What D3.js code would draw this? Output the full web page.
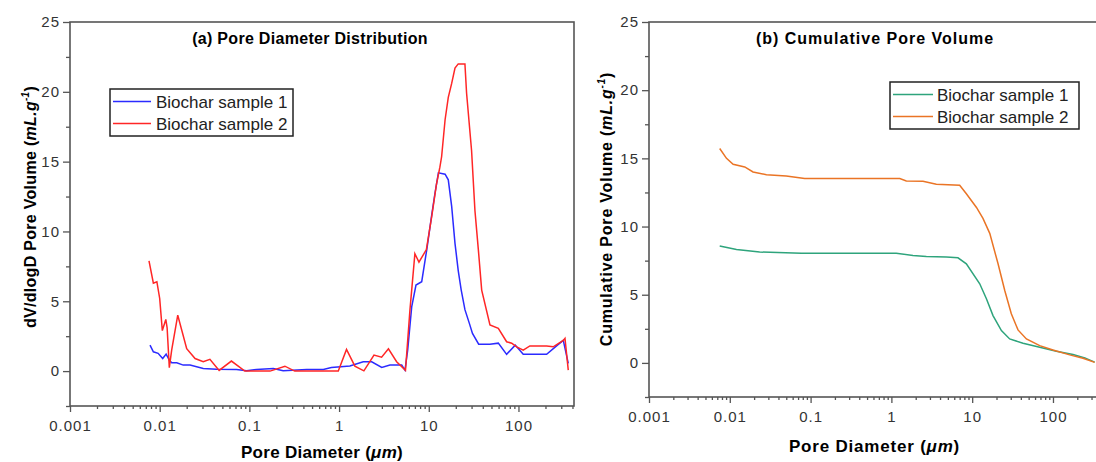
<!DOCTYPE html>
<html>
<head>
<meta charset="utf-8">
<script src="https://cdn.jsdelivr.net/npm/d3@7"></script>
<style>
  body { margin: 0; background: #fff; }
  svg { display: block; font-family: "Liberation Sans", Arial, sans-serif; }
</style>
</head>
<body>
<svg id="chart" width="1096" height="462"></svg>
<script>
// pore diameter (um) and dV/dlogD (mL/g) - panel (a)
const diam1 = [0.0078, 0.0085, 0.0096, 0.0108, 0.0118, 0.0128, 0.0136, 0.0155, 0.0183, 0.0218, 0.0306, 0.0431, 0.0719, 0.093, 0.12, 0.185, 0.238, 0.435, 0.667, 0.82, 1.32, 1.86, 2.31, 2.99, 3.69, 4.99, 5.43, 5.82, 6.45, 7.2, 8.34, 9.48, 10.8, 11.7, 12.8, 15.2, 16.5, 18.0, 19.6, 21.3, 23.0, 25.3, 28.4, 30.7, 36.0, 48, 59.6, 73.8, 92, 113, 160, 206, 272, 316, 359];
const dv1 = [1.86, 1.38, 1.27, 0.9, 1.22, 0.79, 0.6, 0.6, 0.43, 0.43, 0.19, 0.14, 0.12, 0.02, 0.12, 0.19, 0.02, 0.12, 0.12, 0.26, 0.36, 0.67, 0.67, 0.26, 0.43, 0.43, 0.07, 1.5, 4.6, 6.16, 6.4, 8.67, 11.2, 12.7, 14.2, 14.1, 13.7, 11.8, 9.15, 7.2, 5.8, 4.4, 3.4, 2.7, 1.93, 1.93, 2.0, 1.2, 1.86, 1.2, 1.2, 1.2, 1.86, 2.2, 0.55];

const diam2 = [0.0076, 0.0085, 0.0093, 0.0100, 0.0107, 0.0117, 0.0121, 0.0128, 0.0136, 0.0159, 0.0200, 0.0248, 0.0306, 0.0363, 0.046, 0.063, 0.089, 0.17, 0.249, 0.32, 0.98, 1.21, 1.50, 1.89, 2.45, 2.98, 3.55, 4.38, 5.50, 6.17, 7.0, 7.77, 9.4, 10.8, 12.2, 13.3, 13.9, 15.2, 16.5, 18.0, 19.6, 21.3, 25.3, 26.4, 30.0, 32.7, 35.7, 38.9, 48.1, 59.6, 73.8, 84.0, 95.5, 113, 134, 206, 244, 316, 330, 359];
const dv2 = [7.9, 6.3, 6.4, 5.2, 2.9, 3.7, 3.1, 0.25, 1.5, 4.0, 1.6, 0.9, 0.67, 0.84, 0.05, 0.72, 0.0, 0.0, 0.35, 0.0, 0.0, 1.55, 0.35, 0.02, 1.15, 1.0, 1.6, 0.67, 0.05, 4.4, 8.4, 7.8, 8.7, 11.1, 13.4, 14.6, 15.35, 18.0, 19.6, 20.6, 21.7, 22.0, 22.0, 19.9, 15.8, 11.5, 8.7, 5.8, 3.3, 3.06, 2.1, 2.0, 1.74, 1.5, 1.8, 1.8, 1.74, 2.2, 2.35, 0.07];

// cumulative pore volume (mL/g) - panel (b)
const cumDiam1 = [0.0075, 0.0121, 0.0234, 0.0769, 1.15, 1.85, 2.71, 4.79, 6.67, 8.47, 12.4, 15.0, 18.1, 23.0, 29.1, 42.6, 68.5, 110, 177, 248, 328];
const cum1 = [8.57, 8.32, 8.13, 8.05, 8.05, 7.88, 7.81, 7.76, 7.71, 7.27, 5.8, 4.7, 3.47, 2.37, 1.76, 1.44, 1.15, 0.85, 0.61, 0.37, 0.06];

const cumDiam2 = [0.0075, 0.0091, 0.011, 0.0153, 0.0194, 0.0284, 0.050, 0.0845, 1.27, 1.53, 2.46, 3.6, 7.0, 8.47, 11.3, 13.6, 16.5, 20.9, 25.3, 30.5, 36.9, 46.9, 68.5, 100, 161, 235, 328];
const cum2 = [15.72, 15.0, 14.57, 14.37, 14.0, 13.8, 13.7, 13.52, 13.52, 13.34, 13.32, 13.1, 13.03, 12.4, 11.4, 10.6, 9.5, 7.27, 5.31, 3.6, 2.42, 1.76, 1.27, 0.95, 0.59, 0.34, 0.04];

const xTicks = [0.001, 0.01, 0.1, 1, 10, 100];
const yTicks = [0, 5, 10, 15, 20, 25];
const seriesNames = ["Biochar sample 1", "Biochar sample 2"];

const svg = d3.select("#chart");

// minor ticks 2..9 per decade, plus the half-steps on y
const minorX = [];
for (let e = -3; e <= 2; e++) for (let k = 2; k <= 9; k++) minorX.push(k * Math.pow(10, e));
const minorY = [-2.5, 2.5, 7.5, 12.5, 17.5, 22.5];

function panel(o) {
  const x = d3.scaleLog().domain([0.001, 416]).range([o.left, o.right]);
  const y = d3.scaleLinear().domain([-2.5, 25]).range([o.bottom, o.top]);
  const g = svg.append("g");
  const axisCol = "#555";

  // frame
  g.append("rect")
    .attr("x", o.left).attr("y", o.top)
    .attr("width", o.right - o.left).attr("height", o.bottom - o.top)
    .attr("fill", "none").attr("stroke", axisCol).attr("stroke-width", 1.6);

  // x axis
  const xa = g.append("g").attr("transform", `translate(0,${o.bottom})`);
  xa.call(d3.axisBottom(x).tickValues(xTicks).tickSize(6).tickPadding(8)
      .tickFormat(d => d < 1 ? String(d) : d3.format("d")(d)));
  xa.append("g").call(d3.axisBottom(x).tickValues(minorX.filter(v => v < 416)).tickSize(3).tickFormat(""));
  xa.selectAll(".domain").remove();
  xa.selectAll("line").attr("stroke", axisCol).attr("stroke-width", 1.3);
  xa.selectAll("text").attr("font-size", 15).attr("fill", "#333").attr("letter-spacing", 1)
    .attr("font-family", "Liberation Sans, Arial, sans-serif");

  // y axis
  const ya = g.append("g").attr("transform", `translate(${o.left},0)`);
  ya.call(d3.axisLeft(y).tickValues(yTicks).tickSize(7).tickPadding(3));
  ya.append("g").call(d3.axisLeft(y).tickValues(minorY).tickSize(4).tickFormat(""));
  ya.selectAll(".domain").remove();
  ya.selectAll("line").attr("stroke", axisCol).attr("stroke-width", 1.3);
  ya.selectAll("text").attr("font-size", 15).attr("fill", "#333").attr("letter-spacing", 1)
    .attr("font-family", "Liberation Sans, Arial, sans-serif");

  // lines
  const clipId = "clip" + o.id;
  svg.append("clipPath").attr("id", clipId).append("rect")
    .attr("x", o.left).attr("y", o.top).attr("width", o.right - o.left).attr("height", o.bottom - o.top);
  const line = d3.line().x(d => x(d[0])).y(d => y(d[1]));
  o.series.forEach(s => {
    g.append("path")
      .attr("clip-path", `url(#${clipId})`)
      .attr("d", line(d3.zip(s.xs, s.ys)))
      .attr("fill", "none").attr("stroke", s.color).attr("stroke-width", 1.5);
  });

  // title
  g.append("text")
    .attr("x", o.titleX).attr("y", 44)
    .attr("font-size", 16).attr("font-weight", "bold").attr("letter-spacing", o.titleSpacing)
    .attr("text-anchor", "middle")
    .text(o.title);

  // x label
  const xl = g.append("text")
    .attr("x", (o.left + (o.xLabelRight || o.right)) / 2).attr("y", o.xLabelY)
    .attr("font-size", 17).attr("font-weight", "bold").attr("text-anchor", "middle")
    .attr("letter-spacing", o.labelSpacing);
  xl.append("tspan").text("Pore Diameter (");
  xl.append("tspan").attr("font-style", "italic").text("\u03bcm");
  xl.append("tspan").text(")");

  // y label
  const yl = g.append("text")
    .attr("transform", `translate(${o.yLabelX},${o.yLabelMid}) rotate(-90)`)
    .attr("font-size", 16).attr("font-weight", "bold").attr("text-anchor", "middle")
    .attr("letter-spacing", o.labelSpacing);
  yl.append("tspan").text(o.yLabel + " (");
  yl.append("tspan").attr("font-style", "italic").text("mL.g");
  yl.append("tspan").attr("font-style", "italic").attr("font-size", 10).attr("dy", -7).text("-1");
  yl.append("tspan").attr("dy", 7).text(")");

  // legend
  const L = o.legend;
  const lg = g.append("g");
  lg.append("rect").attr("x", L.x).attr("y", L.y).attr("width", L.w).attr("height", L.h)
    .attr("fill", "#fff").attr("stroke", "#222").attr("stroke-width", 1.5);
  o.series.forEach((s, i) => {
    const ly = L.y + 12.5 + i * 22;
    lg.append("line").attr("x1", L.x + 3).attr("x2", L.x + 3 + L.lineLen)
      .attr("y1", ly).attr("y2", ly).attr("stroke", s.color).attr("stroke-width", 1.5);
    lg.append("text").attr("x", L.x + L.textOff).attr("y", ly + 6)
      .attr("font-size", 17).attr("fill", "#222").text(seriesNames[i]);
  });
}

panel({
  id: "a", left: 70, right: 574, top: 22, bottom: 406,
  title: "(a) Pore Diameter Distribution", titleX: 310, titleSpacing: 0.3,
  xLabelY: 458, xLabelRight: 574, labelSpacing: 0.3,
  yLabel: "dV/dlogD Pore Volume ", yLabelX: 36, yLabelMid: 207,
  legend: { x: 110, y: 89, w: 183, h: 47, lineLen: 38, textOff: 46 },
  series: [
    { xs: diam1, ys: dv1, color: "#2b2bff" },
    { xs: diam2, ys: dv2, color: "#ff2626" }
  ]
});

panel({
  id: "b", left: 649, right: 1103, top: 22, bottom: 397,
  title: "(b) Cumulative Pore Volume", titleX: 875, titleSpacing: 1,
  xLabelY: 452, xLabelRight: 1100, labelSpacing: 0.8,
  yLabel: "Cumulative Pore Volume", yLabelX: 612, yLabelMid: 209,
  legend: { x: 890, y: 82, w: 189, h: 47, lineLen: 40, textOff: 47 },
  series: [
    { xs: cumDiam1, ys: cum1, color: "#2ea47c" },
    { xs: cumDiam2, ys: cum2, color: "#ea7425" }
  ]
});
</script>
</body>
</html>
